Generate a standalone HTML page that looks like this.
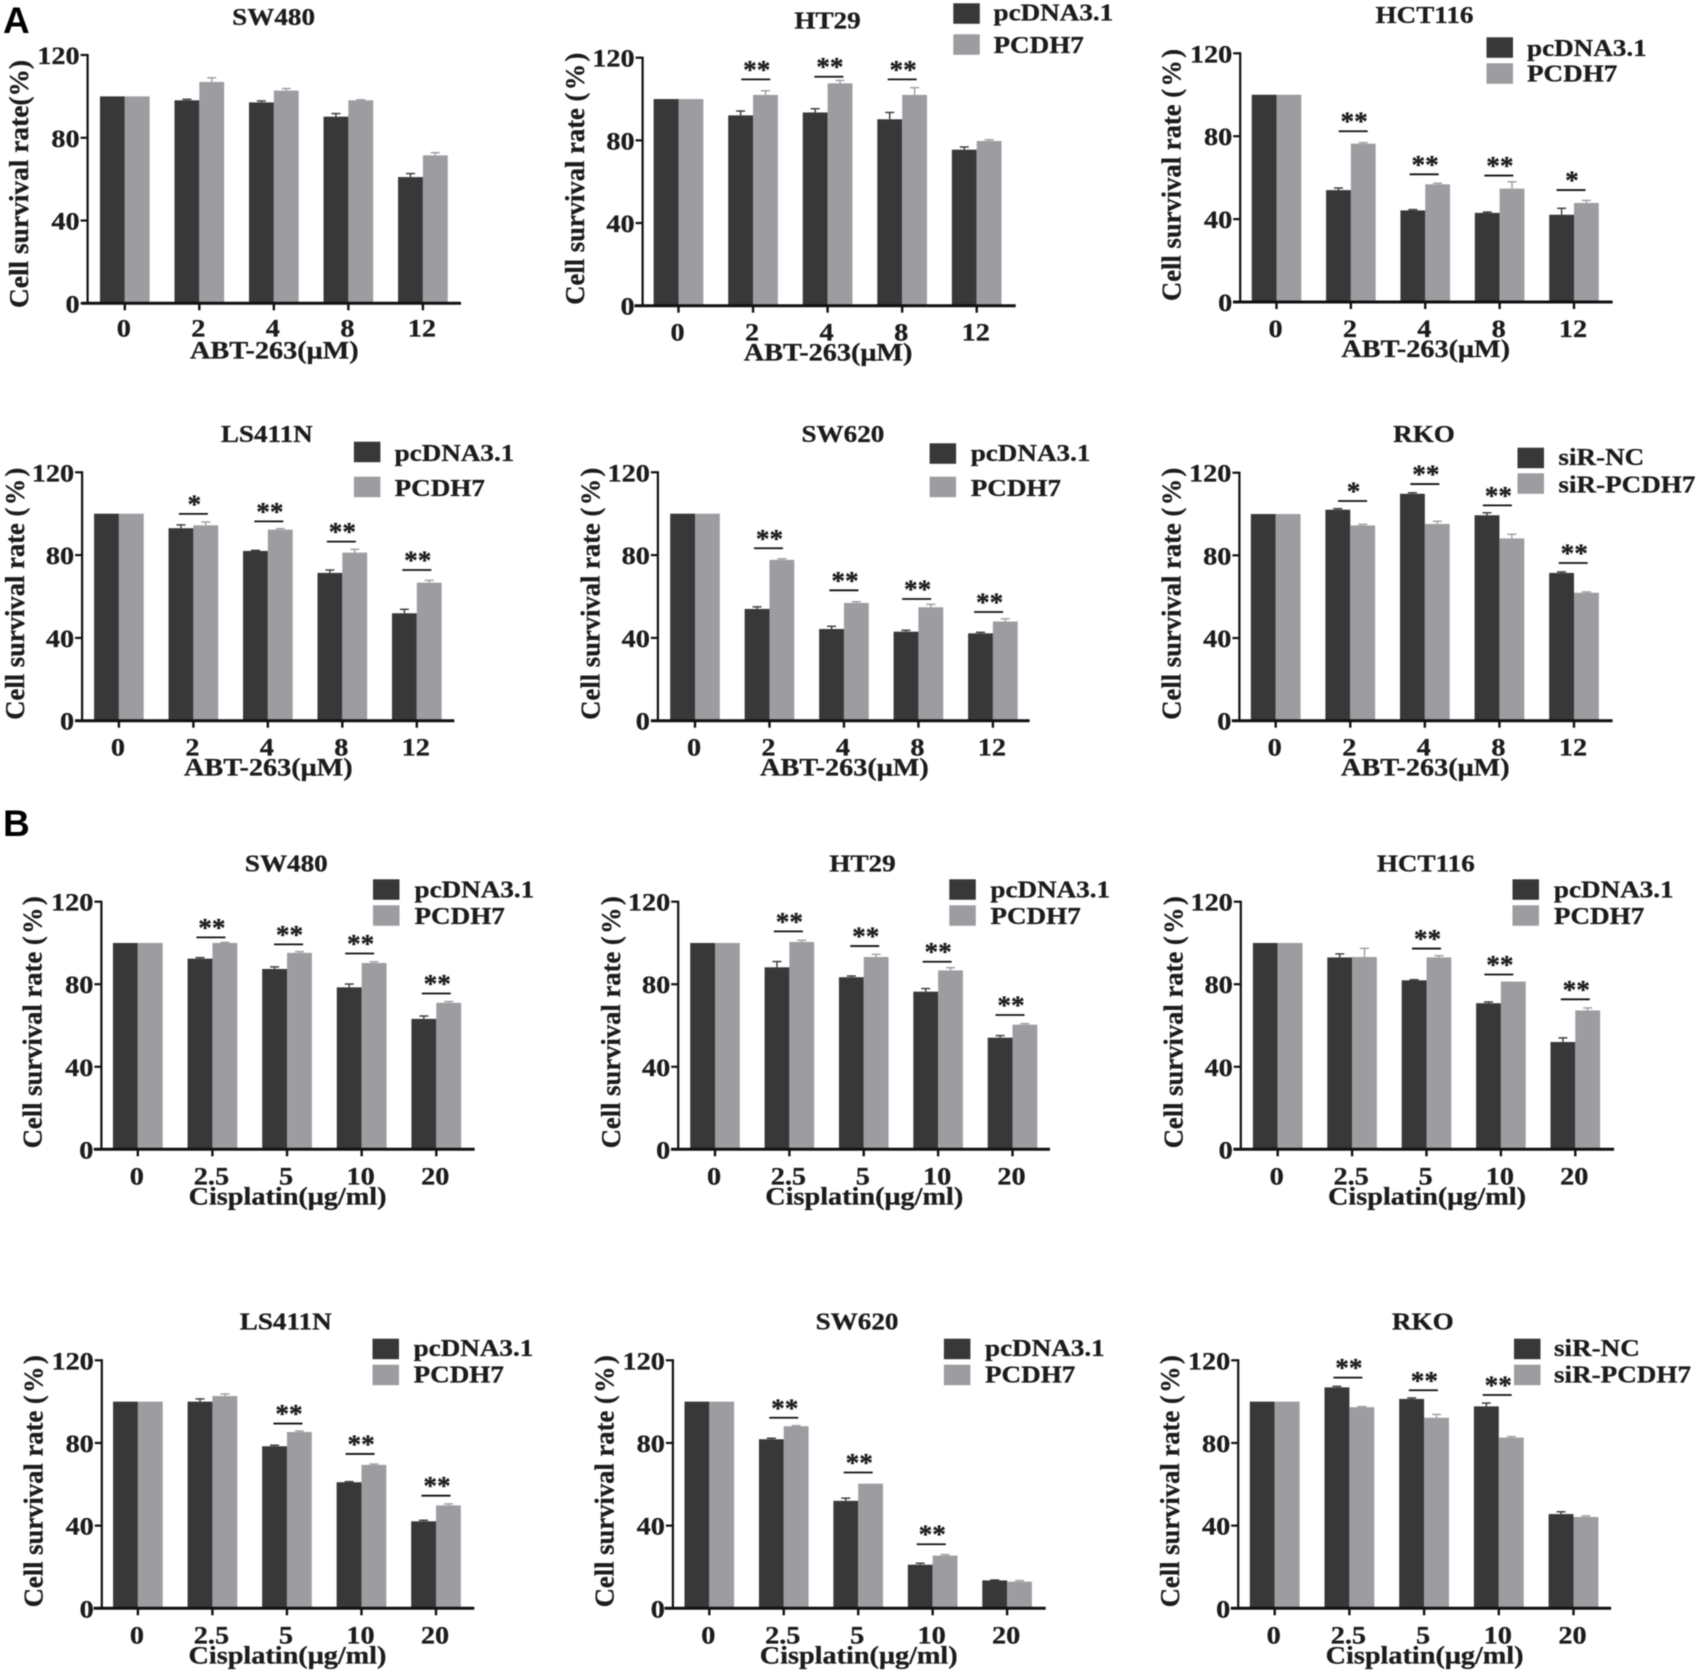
<!DOCTYPE html>
<html lang="en">
<head>
<meta charset="utf-8">
<title>Cell survival rate bar charts</title>
<style>
html,body{margin:0;padding:0;background:#fff;}
svg{display:block;filter:blur(0.4px);}
text{font-family:"Liberation Serif",serif;font-weight:bold;fill:#1c1c1c;stroke:#1c1c1c;stroke-width:0.3px;}
</style>
</head>
<body>
<svg id="figure" xmlns="http://www.w3.org/2000/svg" width="1699" height="1672" viewBox="0 0 1699 1672">
  <rect x="0" y="0" width="1699" height="1672" fill="#ffffff"/>
  <text x="3" y="33" font-size="37" style="font-family:'Liberation Sans',sans-serif;fill:#000;stroke:none">A</text>
  <text x="3" y="836" font-size="37" style="font-family:'Liberation Sans',sans-serif;fill:#000;stroke:none">B</text>
</svg>
<script>
// ---------- Chart data ----------
const abtDoses = ['0', '2', '4', '8', '12'];
const cisplatinDoses = ['0', '2.5', '5', '10', '20'];
const yTickValues = [0, 40, 80, 120];

const abtSw480Control = [100, 98.1, 97.1, 90.2, 61];
const abtSw480Treated = [100, 107, 102.8, 98.1, 71.5];
const abtSw480ControlErr = [0, 0.5, 0.7, 1.5, 1.7];
const abtSw480TreatedErr = [0, 2, 1, 0.3, 1.3];
const abtSw480Stars = ['', '', '', '', ''];
const abtSw480Brackets = [0, 0, 0, 0, 0];

const abtHt29Control = [100, 92.1, 93.5, 90.2, 75.5];
const abtHt29Treated = [100, 102, 107.6, 102, 79.7];
const abtHt29ControlErr = [0, 2.1, 1.8, 3.3, 1.3];
const abtHt29TreatedErr = [0, 2, 1.4, 3.5, 0.6];
const abtHt29Stars = ['', '**', '**', '**', ''];
const abtHt29Brackets = [0, 109.5, 110.8, 109.5, 0];

const abtHct116Control = [100, 54, 44.2, 43, 42.1];
const abtHct116Treated = [100, 76.4, 56.8, 54.7, 47.8];
const abtHct116ControlErr = [0, 1, 0.4, 0.4, 3.1];
const abtHct116TreatedErr = [0, 0.5, 0.5, 3.3, 1.2];
const abtHct116Stars = ['', '**', '**', '**', '*'];
const abtHct116Brackets = [0, 82.4, 61.6, 61, 54];

const abtLs411nControl = [100, 93, 82, 71.4, 51.9];
const abtLs411nTreated = [100, 94.4, 92.3, 81.2, 66.7];
const abtLs411nControlErr = [0, 1.6, 0.3, 1.4, 1.9];
const abtLs411nTreatedErr = [0, 1.6, 0.5, 1.6, 1.1];
const abtLs411nStars = ['', '*', '**', '**', '**'];
const abtLs411nBrackets = [0, 99.9, 96.3, 86.5, 72.8];

const abtSw620Control = [100, 54, 44.3, 43, 42.2];
const abtSw620Treated = [100, 77.7, 56.9, 54.8, 47.9];
const abtSw620ControlErr = [0, 1, 1.3, 0.7, 0.5];
const abtSw620TreatedErr = [0, 0.5, 0.6, 1.4, 1.3];
const abtSw620Stars = ['', '**', '**', '**', '**'];
const abtSw620Brackets = [0, 83.3, 63, 58.8, 52.5];

const abtRkoControl = [100, 102.1, 109.8, 99.4, 71.5];
const abtRkoTreated = [100, 94.5, 95.2, 88.2, 61.9];
const abtRkoControlErr = [0, 0.5, 0.5, 1.2, 0.5];
const abtRkoTreatedErr = [0, 0.5, 1.3, 2, 0.4];
const abtRkoStars = ['', '*', '**', '**', '**'];
const abtRkoBrackets = [0, 106.3, 114.5, 104.2, 76.3];

const cisSw480Control = [100, 92.4, 87.4, 78.5, 63.2];
const cisSw480Treated = [100, 100, 95.2, 90.3, 71];
const cisSw480ControlErr = [0, 0.5, 1, 1.6, 1.4];
const cisSw480TreatedErr = [0, 0.3, 0.6, 0.6, 0.6];
const cisSw480Stars = ['', '**', '**', '**', '**'];
const cisSw480Brackets = [0, 102.7, 99.3, 94.9, 75.5];

const cisHt29Control = [100, 88.2, 83.4, 76.4, 54.1];
const cisHt29Treated = [100, 100.5, 93.2, 86.7, 60.4];
const cisHt29ControlErr = [0, 2.8, 0.6, 1.5, 1];
const cisHt29TreatedErr = [0, 0.8, 1.3, 1.3, 0.5];
const cisHt29Stars = ['', '**', '**', '**', '**'];
const cisHt29Brackets = [0, 105.6, 98.5, 90.9, 65.1];

const cisHct116Control = [100, 93, 81.9, 70.8, 52];
const cisHct116Treated = [100, 93.2, 93, 81.3, 67.3];
const cisHct116ControlErr = [0, 1.7, 0.3, 0.6, 2];
const cisHct116TreatedErr = [0, 4.2, 0.8, 0, 1.2];
const cisHct116Stars = ['', '', '**', '**', '**'];
const cisHct116Brackets = [0, 0, 97.3, 84.7, 72.7];

const cisLs411nControl = [100, 100, 78.4, 61, 42.1];
const cisLs411nTreated = [100, 102.7, 85.3, 69.4, 49.8];
const cisLs411nControlErr = [0, 1.3, 0.5, 0.3, 0.5];
const cisLs411nTreatedErr = [0, 1, 0.5, 0.4, 0.7];
const cisLs411nStars = ['', '', '**', '**', '**'];
const cisLs411nBrackets = [0, 0, 89.4, 74.7, 54.5];

const cisSw620Control = [100, 81.8, 52, 21.1, 13.5];
const cisSw620Treated = [100, 88.1, 60.3, 25.5, 12.9];
const cisSw620ControlErr = [0, 0.5, 1.3, 0.7, 0.2];
const cisSw620TreatedErr = [0, 0.3, 0, 0.5, 0.5];
const cisSw620Stars = ['', '**', '**', '**', ''];
const cisSw620Brackets = [0, 92.2, 65.7, 31, 0];

const cisRkoControl = [100, 106.9, 101.3, 97.7, 45.6];
const cisRkoTreated = [100, 97.3, 92.2, 82.6, 44.2];
const cisRkoControlErr = [0, 0.5, 0.5, 1.6, 1.1];
const cisRkoTreatedErr = [0, 0.3, 1.6, 0.5, 0.5];
const cisRkoStars = ['', '**', '**', '**', ''];
const cisRkoBrackets = [0, 111.6, 105.5, 103.2, 0];

const overexpressionLegend = ['pcDNA3.1', 'PCDH7'];
const knockdownLegend = ['siR-NC', 'siR-PCDH7'];

// ---------- Panels: data wiring plus page layout ----------
const panels = [
  {id:'a-sw480', title:'SW480', drug:'ABT-263(μM)', cats:abtDoses, control:abtSw480Control, treated:abtSw480Treated, controlErr:abtSw480ControlErr, treatedErr:abtSw480TreatedErr, stars:abtSw480Stars, brackets:abtSw480Brackets, legend:null,
   box:{axisX:87.6, y120:55, y0:303.3, tick0:124.8, tickN:422.9, left:81.5, right:461, titleX:273.6, titleY:17, yTitleX:20, yTitleC:184, yTitle:'Cell survival rate(%)', yLen:248, tickDy:-2, nudge:[0,0,0,0,0]}},
  {id:'a-ht29', title:'HT29', drug:'ABT-263(μM)', cats:abtDoses, control:abtHt29Control, treated:abtHt29Treated, controlErr:abtHt29ControlErr, treatedErr:abtHt29TreatedErr, stars:abtHt29Stars, brackets:abtHt29Brackets, legend:overexpressionLegend,
   box:{axisX:642.6, y120:57.7, y0:305.7, tick0:678.5, tickN:976.7, left:634.5, right:1015.7, titleX:827.5, titleY:20.5, yTitleX:576, yLeg:[3.3,34.3], legX:953.3, legTextX:993.5, legBase:[20.7,53], nudge:[0,2.7,1.3,0,0]}},
  {id:'a-hct116', title:'HCT116', drug:'ABT-263(μM)', cats:abtDoses, control:abtHct116Control, treated:abtHct116Treated, controlErr:abtHct116ControlErr, treatedErr:abtHct116TreatedErr, stars:abtHct116Stars, brackets:abtHct116Brackets, legend:overexpressionLegend,
   box:{axisX:1240.2, y120:53.3, y0:302, tick0:1276.5, tickN:1574, left:1233, right:1612.6, titleX:1424.5, titleY:15, yTitleX:1172.6, yLeg:[37.3,63.3], legX:1486.5, legTextX:1527, legBase:[56,81.7], nudge:[0,2.3,-1.1,-0.8,-3]}},
  {id:'a-ls411n', title:'LS411N', drug:'ABT-263(μM)', cats:abtDoses, control:abtLs411nControl, treated:abtLs411nTreated, controlErr:abtLs411nControlErr, treatedErr:abtLs411nTreatedErr, stars:abtLs411nStars, brackets:abtLs411nBrackets, legend:overexpressionLegend,
   box:{axisX:82.1, y120:472.3, y0:720.7, tick0:118.9, tickN:416.8, left:75, right:454.3, titleX:266.8, titleY:434, yTitleX:16, yLeg:[441.7,476.7], legX:353.9, legTextX:394.6, legBase:[461,496], nudge:[0,0,1,-1,0]}},
  {id:'a-sw620', title:'SW620', drug:'ABT-263(μM)', cats:abtDoses, control:abtSw620Control, treated:abtSw620Treated, controlErr:abtSw620ControlErr, treatedErr:abtSw620TreatedErr, stars:abtSw620Stars, brackets:abtSw620Brackets, legend:overexpressionLegend,
   box:{axisX:657.9, y120:472.3, y0:720.7, tick0:695, tickN:992.9, left:651, right:1029.6, titleX:842.9, titleY:434, yTitleX:591.4, yLeg:[443.3,476.7], legX:929.6, legTextX:970.7, legBase:[461,496], nudge:[0,-1,0,-1.8,-4.3]}},
  {id:'a-rko', title:'RKO', drug:'ABT-263(μM)', cats:abtDoses, control:abtRkoControl, treated:abtRkoTreated, controlErr:abtRkoControlErr, treatedErr:abtRkoTreatedErr, stars:abtRkoStars, brackets:abtRkoBrackets, legend:knockdownLegend,
   box:{axisX:1239.4, y120:472.7, y0:720.7, tick0:1275.7, tickN:1574, left:1231.8, right:1612.6, titleX:1424, titleY:434, yTitleX:1172.6, yLeg:[447.7,473.3], legX:1517.5, legTextX:1558.4, legBase:[465,492.5], nudge:[0,2.3,0,-2,-0.8]}},
  {id:'b-sw480', title:'SW480', drug:'Cisplatin(μg/ml)', cats:cisplatinDoses, control:cisSw480Control, treated:cisSw480Treated, controlErr:cisSw480ControlErr, treatedErr:cisSw480TreatedErr, stars:cisSw480Stars, brackets:cisSw480Brackets, legend:overexpressionLegend,
   box:{axisX:101.4, y120:901.7, y0:1149.3, tick0:137.8, tickN:436.3, left:93.8, right:474.6, titleX:286.3, titleY:863.3, yTitleX:33.7, yLeg:[879.3,905.3], legX:373, legTextX:414.5, legBase:[897.3,924], nudge:[0,-1.5,1.5,-2,0]}},
  {id:'b-ht29', title:'HT29', drug:'Cisplatin(μg/ml)', cats:cisplatinDoses, control:cisHt29Control, treated:cisHt29Treated, controlErr:cisHt29ControlErr, treatedErr:cisHt29TreatedErr, stars:cisHt29Stars, brackets:cisHt29Brackets, legend:overexpressionLegend,
   box:{axisX:678.2, y120:901.7, y0:1149.3, tick0:715, tickN:1012.5, left:671, right:1050, titleX:862.5, titleY:863.3, yTitleX:611.8, yLeg:[879.3,905.3], legX:949.3, legTextX:990.4, legBase:[897.3,924], nudge:[0,-1,1,-1,-2.5]}},
  {id:'b-hct116', title:'HCT116', drug:'Cisplatin(μg/ml)', cats:cisplatinDoses, control:cisHct116Control, treated:cisHct116Treated, controlErr:cisHct116ControlErr, treatedErr:cisHct116TreatedErr, stars:cisHct116Stars, brackets:cisHct116Brackets, legend:overexpressionLegend,
   box:{axisX:1240.8, y120:901.7, y0:1149.3, tick0:1277.7, tickN:1575.3, left:1233.4, right:1614.1, titleX:1425.8, titleY:863.3, yTitleX:1174.3, yLeg:[879.3,905.3], legX:1512.5, legTextX:1553.9, legBase:[897.3,924], nudge:[0,0,0,-2,0]}},
  {id:'b-ls411n', title:'LS411N', drug:'Cisplatin(μg/ml)', cats:cisplatinDoses, control:cisLs411nControl, treated:cisLs411nTreated, controlErr:cisLs411nControlErr, treatedErr:cisLs411nTreatedErr, stars:cisLs411nStars, brackets:cisLs411nBrackets, legend:overexpressionLegend,
   box:{axisX:101.8, y120:1360.3, y0:1608.3, tick0:137.9, tickN:436, left:93.6, right:474.3, titleX:285.7, titleY:1321.7, yTitleX:34.6, yLeg:[1338.7,1364.7], legX:372.5, legTextX:413.6, legBase:[1356,1382.3], nudge:[0,0,1,-1.4,0]}},
  {id:'b-sw620', title:'SW620', drug:'Cisplatin(μg/ml)', cats:cisplatinDoses, control:cisSw620Control, treated:cisSw620Treated, controlErr:cisSw620ControlErr, treatedErr:cisSw620TreatedErr, stars:cisSw620Stars, brackets:cisSw620Brackets, legend:overexpressionLegend,
   box:{axisX:672.9, y120:1360.3, y0:1608.3, tick0:709.3, tickN:1007.1, left:664.6, right:1045.7, titleX:857, titleY:1321.7, yTitleX:605.7, yLeg:[1338.7,1364.7], legX:943.9, legTextX:985, legBase:[1356,1382.3], nudge:[0,0,0,-1.4,0]}},
  {id:'b-rko', title:'RKO', drug:'Cisplatin(μg/ml)', cats:cisplatinDoses, control:cisRkoControl, treated:cisRkoTreated, controlErr:cisRkoControlErr, treatedErr:cisRkoTreatedErr, stars:cisRkoStars, brackets:cisRkoBrackets, legend:knockdownLegend,
   box:{axisX:1238.2, y120:1360.3, y0:1608.3, tick0:1274.7, tickN:1573.5, left:1230.8, right:1611.1, titleX:1422.8, titleY:1321.7, yTitleX:1171, yLeg:[1338.7,1364.7], legX:1514, legTextX:1554, legBase:[1356,1382.3], nudge:[0,-1.5,-0.7,-1.6,0]}}
];

// ---------- Drawing ----------
const SVG_NS = 'http://www.w3.org/2000/svg';
const figure = document.getElementById('figure');
const DARK = '#383838';
const LIGHT = '#9d9da1';
const FONT_SIZE = 24;
const STRETCH = 1.13;

function makeEl(parent, tag, props) {
  const el = document.createElementNS(SVG_NS, tag);
  for (const key in props) el.setAttribute(key, props[key]);
  parent.appendChild(el);
  return el;
}
function makeLine(parent, x1, y1, x2, y2, stroke, width) {
  return makeEl(parent, 'line', {x1: x1, y1: y1, x2: x2, y2: y2, stroke: stroke, 'stroke-width': width});
}
function makeText(parent, x, y, str, anchor, size, stretch) {
  const el = makeEl(parent, 'text', {
    transform: 'translate(' + x + ',' + y + ') scale(' + stretch + ',1)',
    'text-anchor': anchor,
    'font-size': size
  });
  el.textContent = str;
  return el;
}

panels.forEach(function (p) {
  const b = p.box;
  const group = makeEl(figure, 'g', {});
  
  

  const step = (b.tickN - b.tick0) / (p.cats.length - 1);
  const barW = step / 3;
  const xScale = function (i) { return b.tick0 + i * step; };
  const yScale = function (v) { return b.y0 - v * (b.y0 - b.y120) / 120; };

  // bars + error bars
  p.cats.forEach(function (cat, i) {
    [[p.control, p.controlErr, DARK, -1, 'control'], [p.treated, p.treatedErr, LIGHT, 0, 'treated']].forEach(function (s) {
      const left = xScale(i) + s[3] * barW;
      const top = yScale(s[0][i]);
      const bar = makeEl(group, 'rect', {x: left, y: top, width: barW, height: yScale(0) - top, fill: s[2]});
      
      
      if (s[1][i] > 0) {
        const cx = left + barW / 2;
        const errTop = yScale(s[0][i] + s[1][i]);
        const stem = makeLine(group, cx, top, cx, errTop, s[2], 1.4);
        
        
        const cap = makeLine(group, cx - 4.5, errTop, cx + 4.5, errTop, s[2], 1.4);
        
        
      }
    });
  });

  // axes
  const yAxis = makeLine(group, b.axisX, yScale(120) - 1, b.axisX, yScale(0) + 1, '#111', 2.2);
  
  
  const xAxis = makeLine(group, b.left, yScale(0), b.right, yScale(0), '#111', 3);
  
  

  yTickValues.forEach(function (v) {
    const tick = makeLine(group, b.axisX - 7, yScale(v), b.axisX, yScale(v), '#111', 2.2);
    
    
    const label = makeText(group, b.axisX - 8, yScale(v) + 9, String(v), 'end', FONT_SIZE + 1, STRETCH);
    
    
  });

  p.cats.forEach(function (cat, i) {
    const tick = makeLine(group, xScale(i), yScale(0), xScale(i), yScale(0) + 7, '#111', 2.4);
    
    
    const label = makeText(group, xScale(i) - 1, yScale(0) + 35 + (b.tickDy || 0), cat, 'middle', FONT_SIZE + 1, STRETCH);
    
    
  });

  // significance brackets
  p.stars.forEach(function (star, i) {
    if (!star) return;
    const by = yScale(p.brackets[i]);
    const bx = xScale(i) + b.nudge[i];
    const bracket = makeLine(group, bx - 14.5, by, bx + 14.5, by, '#111', 1.8);
    
    
    const mark = makeText(group, bx + 1, by - 1, star, 'middle', 26, 1.05);
    
    
  });

  // titles
  const title = makeText(group, b.titleX, b.titleY + 8, p.title, 'middle', FONT_SIZE, STRETCH);
  
  

  const xTitle = makeText(group, xScale(2) + 0.5, yScale(0) + 55, p.drug, 'middle', FONT_SIZE + 1, STRETCH);
  
  

  const yLabelText = b.yTitle || 'Cell survival rate (\u200A%\u200A)';
  const yCentre = b.yTitleC || (yScale(0) - 127);
  const yTitle = makeEl(group, 'text', {
    transform: 'translate(' + (b.yTitleX + 8) + ',' + yCentre + ') rotate(-90)',
    'text-anchor': 'middle',
    'font-size': 27,
    textLength: b.yLen || 252,
    lengthAdjust: 'spacingAndGlyphs'
  });
  yTitle.textContent = yLabelText;
  
  

  // legend
  if (p.legend) {
    p.legend.forEach(function (name, i) {
      const swatch = makeEl(group, 'rect', {x: b.legX, y: b.yLeg[i], width: 26.5, height: 20.5, fill: i === 0 ? DARK : LIGHT});
      
      
      const entry = makeText(group, b.legTextX, b.legBase[i], name, 'start', FONT_SIZE, STRETCH);
      
      
    });
  }
});
</script>
</body>
</html>
